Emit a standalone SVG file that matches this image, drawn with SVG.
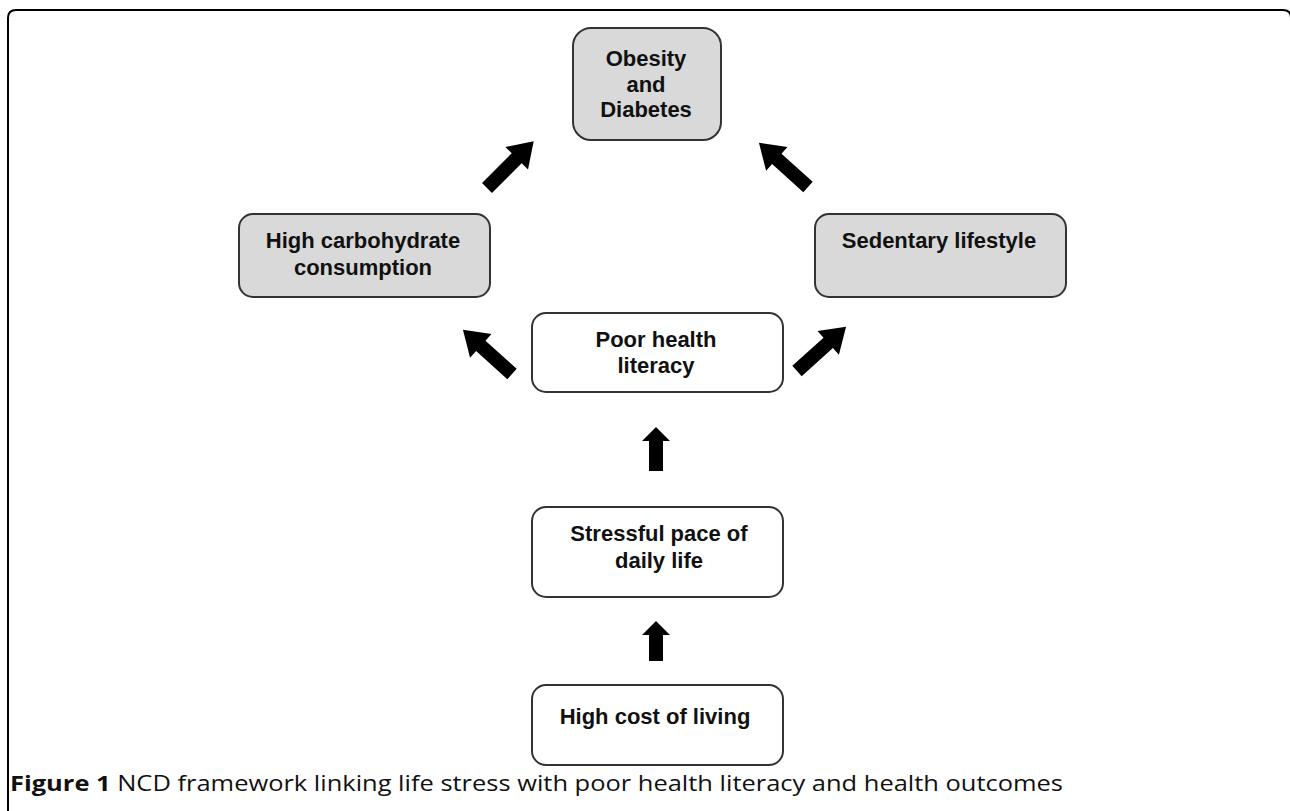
<svg xmlns="http://www.w3.org/2000/svg" width="1290" height="811" viewBox="0 0 1290 811">
<style>
.box{stroke:#333;stroke-width:2}
.g{fill:#d9d9d9}
.w{fill:#fff}
.t{font-family:"Liberation Sans",Arial,sans-serif;font-weight:bold;font-size:22px;fill:#111;text-anchor:middle}
.arr{fill:#000}
.cap{font-family:"Open Sans","Liberation Sans",sans-serif;font-size:22px;fill:#111}
</style>
<defs>
<path id="da" d="M0,-7 L42,-7 L42,-16 L66,0 L42,16 L42,7 L0,7 Z"/>
</defs>
<rect width="1290" height="811" fill="#fff"/>
<path d="M8,811 L8,18 Q8,10 16,10 L1283,10 Q1291,10 1291,18 L1291,811" fill="none" stroke="#000" stroke-width="2"/>

<g id="obesity">
<rect class="box g" x="573" y="28" width="148" height="112" rx="18"/>
<text class="t" x="646" y="66">Obesity</text>
<text class="t" x="646" y="92">and</text>
<text class="t" x="646" y="117">Diabetes</text>
</g>
<g id="carb">
<rect class="box g" x="239" y="214" width="251" height="83" rx="14"/>
<text class="t" x="363" y="248">High carbohydrate</text>
<text class="t" x="363" y="275">consumption</text>
</g>
<g id="sedentary">
<rect class="box g" x="815" y="214" width="251" height="83" rx="14"/>
<text class="t" x="939" y="248">Sedentary lifestyle</text>
</g>
<g id="literacy">
<rect class="box w" x="532" y="313" width="251" height="79" rx="14"/>
<text class="t" x="656" y="347">Poor health</text>
<text class="t" x="656" y="373">literacy</text>
</g>
<g id="stress">
<rect class="box w" x="532" y="507" width="251" height="90" rx="14"/>
<text class="t" x="659" y="541">Stressful pace of</text>
<text class="t" x="659" y="568">daily life</text>
</g>
<g id="cost">
<rect class="box w" x="532" y="685" width="251" height="80" rx="14"/>
<text class="t" x="655" y="724">High cost of living</text>
</g>

<g id="connectors" class="arr">
<use href="#da" transform="translate(487,188) rotate(-45)"/>
<use href="#da" transform="translate(808,187) rotate(-138)"/>
<use href="#da" transform="translate(512,374) rotate(-138)"/>
<use href="#da" transform="translate(797,371) rotate(-42)"/>
<path d="M649,471 L649,441 L642,441 L656,427 L670,441 L663,441 L663,471 Z"/>
<path d="M649,661 L649,635 L642,635 L656,621 L670,635 L663,635 L663,661 Z"/>
</g>

<text class="cap" x="10" y="791" textLength="1053" lengthAdjust="spacingAndGlyphs"><tspan font-weight="bold">Figure 1</tspan> NCD framework linking life stress with poor health literacy and health outcomes</text>
</svg>
